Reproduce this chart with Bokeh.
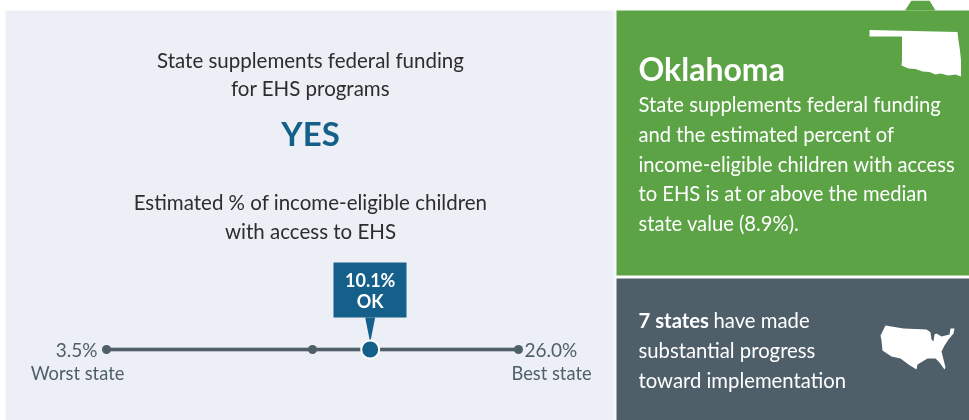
from bokeh.plotting import figure
from bokeh.models import Range1d
from bokeh.core.properties import value
from bokeh.embed import file_html
from bokeh.resources import INLINE

# ---- data -------------------------------------------------------------
scale_labels = ["3.5%", "26.0%"]
scale_names = ["Worst state", "Best state"]
rank_ends = [0, 100]        # worst / best state on the rank scale
rank_median = [50]          # median state (8.9%)
rank_state = [64]           # Oklahoma
state_label = ["10.1%", "OK"]

heading_1 = ["State supplements federal funding", "for EHS programs"]
answer = "YES"
heading_2 = ["Estimated % of income-eligible children", "with access to EHS"]
state_name = "Oklahoma"
state_text = ["State supplements federal funding", "and the estimated percent of",
              "income-eligible children with access", "to EHS is at or above the median",
              "state value (8.9%)."]
bottom_bold = "7 states"
bottom_text = ["have made", "substantial progress", "toward implementation"]

# ---- style ------------------------------------------------------------
PANEL = "#ECEFF5"; GREEN = "#5CA346"; SLATE = "#4F5F69"; BLUE = "#14608A"; INK = "#2F2C2D"
FONT = value("Lato")

W, H = 969, 420
p = figure(width=W, height=H, x_range=Range1d(0, W), y_range=Range1d(H, 0),
           output_backend="svg", toolbar_location=None, min_border=0,
           outline_line_color=None, background_fill_color="white", border_fill_color="white")
p.styles = {"position": "fixed", "left": "0px", "top": "0px"}
p.axis.visible = False
p.grid.visible = False

# rank scale: 0 sits at x=106, 100 at x=518
x0, x1 = 106.0, 518.0
k = (x1 - x0) / 100.0
p.extra_x_ranges["rank"] = Range1d(-x0 / k, (W - x0) / k)

# panels
p.quad(left=[5], right=[613], top=[10], bottom=[420], fill_color=PANEL, line_color=None)
p.quad(left=[613], right=[616], top=[10], bottom=[420], fill_color="#F5F7FA", line_color=None)
p.quad(left=[616], right=[969], top=[10], bottom=[275], fill_color=GREEN, line_color=None)
p.quad(left=[616], right=[969], top=[278], bottom=[420], fill_color=SLATE, line_color=None)
p.patch([904.5, 911, 929, 935], [10, 0, 0, 10], fill_color=GREEN, line_color=None)

# Oklahoma silhouette
ok_x = [869, 957, 958, 959.5, 960.5, 960.5, 955, 948, 940, 935, 929, 922, 915, 908, 901, 901.5, 901.5, 869]
ok_y = [29.5, 31.5, 40, 50, 60, 76, 74, 75, 73, 74, 71.5, 71, 68.5, 68, 65, 60, 36, 36]
p.patch(ok_x, ok_y, fill_color="white", line_color=None)

# US silhouette
us_x = [885, 903, 926, 929, 930, 931, 933, 934, 936, 941, 945, 949, 950, 954, 953, 948, 944, 941, 945, 944, 939, 935,
        927, 917, 916, 908, 900, 891, 882, 881, 880]
us_y = [325, 328, 329, 331, 332, 339, 341, 334, 333, 336, 335, 334, 328, 328, 333, 339, 345, 351, 367, 369, 362, 358,
        358, 364, 369, 364, 358, 356, 350, 340, 335]
p.patch(us_x, us_y, fill_color="white", line_color=None)

# headings
p.text([310, 310], [59, 87], text=heading_1, text_font=FONT, text_font_size="20.5px", text_color=INK,
       text_align="center", text_baseline="middle")
p.text([310], [132], text=[answer], text_font=FONT, text_font_size="33px", text_font_style="bold",
       text_color=BLUE, text_align="center", text_baseline="middle")
p.text([310, 310], [201, 230], text=heading_2, text_font=FONT, text_font_size="20.5px", text_color=INK,
       text_align="center", text_baseline="middle")

# scale line
yline = 349
p.line(rank_ends, [yline, yline], x_range_name="rank", line_color="#DCE1E6", line_width=5)
p.line(rank_ends, [yline, yline], x_range_name="rank", line_color=SLATE, line_width=3.5)
p.scatter(rank_ends + rank_median, [yline] * 3, x_range_name="rank", size=9, fill_color=SLATE, line_color=None)

# callout
cx = x0 + rank_state[0] * k
p.quad(left=[333], right=[406], top=[262], bottom=[317], fill_color=BLUE, line_color=None)
p.patch([cx - 5, cx + 5, cx], [317, 317, 342], fill_color=BLUE, line_color=None)
p.scatter(rank_state, [yline], x_range_name="rank", size=18, fill_color=BLUE, line_color="white", line_width=2)
p.text([cx, cx], [279, 300], text=state_label, text_font=FONT, text_font_size="18px", text_font_style="bold",
       text_color="white", text_align="center", text_baseline="middle")

# ends of the scale
p.text([97], [349], text=[scale_labels[0]], text_font=FONT, text_font_size="19px", text_color=SLATE,
       text_align="right", text_baseline="middle")
p.text([524], [349], text=[scale_labels[1]], text_font=FONT, text_font_size="19px", text_color=SLATE,
       text_align="left", text_baseline="middle")
p.text([77, 551], [372, 372], text=scale_names, text_font=FONT, text_font_size="18.3px", text_color=SLATE,
       text_align="center", text_baseline="middle")

# green panel
p.text([638], [68], text=[state_name], text_font=FONT, text_font_size="32px", text_font_style="bold",
       text_color="white", text_align="left", text_baseline="middle")
p.text([638] * 5, [103, 133, 163, 192, 222], text=state_text, text_font=FONT, text_font_size="20.2px",
       text_color="white", text_align="left", text_baseline="middle")

# slate panel
p.text([638], [319], text=[bottom_bold], text_font=FONT, text_font_size="20.3px", text_font_style="bold",
       text_color="white", text_align="left", text_baseline="middle")
p.text([713, 638, 638], [319, 349, 379], text=bottom_text, text_font=FONT, text_font_size="20.3px",
       text_color="white", text_align="left", text_baseline="middle")

open("out.html", "w").write(file_html(p, INLINE))
